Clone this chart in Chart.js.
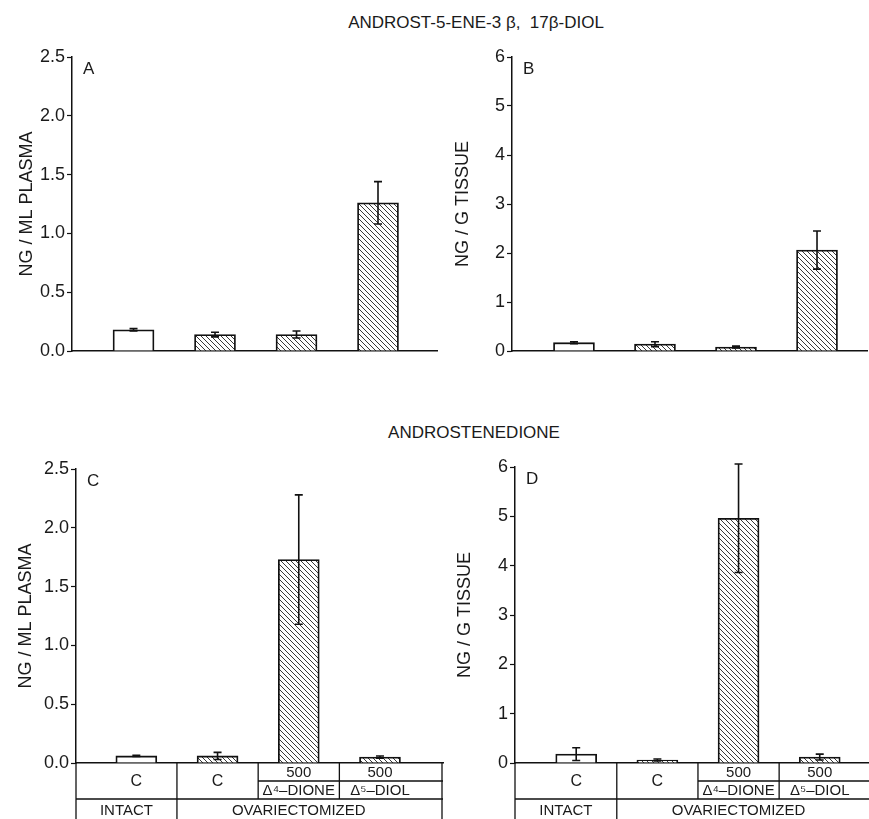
<!DOCTYPE html>
<html>
<head>
<meta charset="utf-8">
<script src="https://cdn.jsdelivr.net/npm/chart.js@4"></script>
<style>
  body { margin: 0; background: #fff; width: 869px; height: 819px; position: relative; overflow: hidden;
         font-family: "Liberation Sans", Arial, sans-serif; color: #1a1a1a; }
  canvas { position: absolute; }
  .head { position: absolute; font-size: 17px; white-space: pre; transform: translateX(-50%); }
</style>
</head>
<body>
<div class="head" style="left:476px;top:13px">ANDROST-5-ENE-3 β,  17β-DIOL</div>
<div class="head" style="left:474px;top:423px">ANDROSTENEDIONE</div>
<canvas id="chartA" width="446" height="380" style="left:0;top:0"></canvas>
<canvas id="chartB" width="423" height="380" style="left:446px;top:0"></canvas>
<canvas id="chartC" width="446" height="439" style="left:0;top:380px"></canvas>
<canvas id="chartD" width="423" height="439" style="left:446px;top:380px"></canvas>
<script>
// groups under the bottom panels
const groups = ["INTACT", "OVARIECTOMIZED"];
const doseRow = ["C", "C", "500", "500"];
const steroidRow = ["", "", "Δ⁴–DIONE", "Δ⁵–DIOL"];
const positions = [1, 2, 3, 4];

// androst-5-ene-3β,17β-diol
const diolPlasma = [0.18, 0.14, 0.14, 1.26];
const diolPlasmaErr = [0.01, 0.02, 0.03, 0.18];
const diolTissue = [0.17, 0.14, 0.08, 2.06];
const diolTissueErr = [0.02, 0.05, 0.02, 0.39];

// androstenedione
const dionePlasma = [0.06, 0.06, 1.73, 0.05];
const dionePlasmaErr = [0.005, 0.03, 0.55, 0.01];
const dioneTissue = [0.18, 0.06, 4.96, 0.12];
const dioneTissueErr = [0.13, 0.02, 1.1, 0.06];

const plasmaTicks = [0, 0.5, 1.0, 1.5, 2.0, 2.5];
const tissueTicks = [0, 1, 2, 3, 4, 5, 6];

const family = '"Liberation Sans", Arial, sans-serif';
const ink = "#1a1a1a";

function hatch() {
  const c = document.createElement("canvas");
  c.width = 5;
  c.height = 5;
  const g = c.getContext("2d");
  g.fillStyle = "#fff";
  g.fillRect(0, 0, 5, 5);
  g.strokeStyle = "#222";
  g.lineWidth = 0.9;
  g.beginPath();
  g.moveTo(-1, -1); g.lineTo(6, 6);
  g.moveTo(-1, 4); g.lineTo(1, 6);
  g.moveTo(4, -1); g.lineTo(6, 1);
  g.stroke();
  return g.createPattern(c, "repeat");
}
const stripes = hatch();

const errorBars = {
  id: "errorBars",
  afterDatasetsDraw(chart) {
    const ds = chart.data.datasets[0];
    const meta = chart.getDatasetMeta(0);
    const ys = chart.scales.y;
    const g = chart.ctx;
    g.save();
    g.strokeStyle = "#111";
    g.lineWidth = 1.6;
    meta.data.forEach((bar, i) => {
      const v = ds.data[i].y, e = ds.errors[i];
      const top = ys.getPixelForValue(v + e), bot = ys.getPixelForValue(v - e);
      g.beginPath();
      g.moveTo(bar.x, top); g.lineTo(bar.x, bot);
      g.moveTo(bar.x - 4, top); g.lineTo(bar.x + 4, top);
      g.moveTo(bar.x - 4, bot); g.lineTo(bar.x + 4, bot);
      g.stroke();
    });
    g.restore();
  }
};

const panelTag = {
  id: "panelTag",
  afterDraw(chart, args, opts) {
    const a = chart.chartArea, g = chart.ctx;
    g.save();
    g.font = "17px " + family;
    g.fillStyle = ink;
    g.textBaseline = "top";
    g.fillText(opts.text, a.left + 11, a.top + 4);
    g.restore();
  }
};

// treatment table drawn under the x axis
const table = {
  id: "table",
  afterDraw(chart, args, opts) {
    if (!opts.show) return;
    const a = chart.chartArea, xs = chart.scales.x, g = chart.ctx;
    const y0 = a.bottom, y1 = y0 + 18, y2 = y0 + 36, y3 = chart.height;
    const b1 = xs.getPixelForValue(1.5), b2 = xs.getPixelForValue(2.5), b3 = xs.getPixelForValue(3.5);
    g.save();
    g.strokeStyle = "#111";
    g.lineWidth = 1.3;
    g.beginPath();
    g.moveTo(a.left, y0); g.lineTo(a.left, y3);
    g.moveTo(b2, y1); g.lineTo(a.right, y1);
    g.moveTo(a.left, y2); g.lineTo(a.right, y2);
    g.moveTo(b1, y0); g.lineTo(b1, y3);
    g.moveTo(b2, y0); g.lineTo(b2, y2);
    g.moveTo(b3, y0); g.lineTo(b3, y2);
    if (opts.edge) { g.moveTo(a.right - 1, y0); g.lineTo(a.right - 1, y3); }
    g.stroke();

    g.font = "15px " + family;
    g.fillStyle = ink;
    g.textAlign = "center";
    g.textBaseline = "middle";
    positions.forEach((p, i) => {
      const x = xs.getPixelForValue(p);
      if (steroidRow[i]) {
        g.fillText(doseRow[i], x, (y0 + y1) / 2 + 1);
        g.fillText(steroidRow[i], x, (y1 + y2) / 2 + 1);
      } else {
        g.font = "16px " + family;
        g.fillText(doseRow[i], x, (y0 + y2) / 2 + 1);
        g.font = "15px " + family;
      }
    });
    g.fillText(groups[0], (a.left + b1) / 2, y2 + 12);
    g.fillText(groups[1], xs.getPixelForValue(3), y2 + 12);
    g.restore();
  }
};

function makeChart(id, vals, errs, o) {
  return new Chart(document.getElementById(id), {
    type: "bar",
    data: {
      datasets: [{
        data: positions.map((x, i) => ({ x: x, y: vals[i] })),
        errors: errs,
        backgroundColor: positions.map((x, i) => (i === 0 ? "#fff" : stripes)),
        borderColor: "#111",
        borderWidth: 1.8,
        barThickness: 41,
      }],
    },
    options: {
      responsive: false,
      animation: false,
      layout: { padding: { top: o.top, bottom: o.bottom, left: 0, right: o.right } },
      plugins: {
        legend: { display: false },
        tooltip: { enabled: false },
        panelTag: { text: o.tag },
        table: { show: o.table, edge: o.edge },
      },
      scales: {
        x: {
          type: "linear",
          offset: false,
          min: o.xmin,
          max: o.xmax,
          ticks: { display: false },
          grid: { display: false },
          border: { color: "#111", width: 1.5 },
          afterFit: (s) => { s.height = 0; },
        },
        y: {
          min: 0,
          max: o.ticks[o.ticks.length - 1],
          afterBuildTicks: (s) => { s.ticks = o.ticks.map((v) => ({ value: v })); },
          ticks: {
            callback: (v) => (o.dec ? v.toFixed(1) : String(v)),
            font: { size: 18, family: family },
            color: ink,
            padding: 2,
          },
          grid: { drawOnChartArea: false, tickLength: 5, tickColor: "#111", tickWidth: 1.2 },
          border: { color: "#111", width: 1.5 },
          title: {
            display: true,
            text: o.ylabel,
            font: { size: 18, family: family },
            color: ink,
            padding: { top: o.tpad, bottom: 0 },
          },
          afterFit: (s) => { s.width = o.yw; },
        },
      },
    },
    plugins: [errorBars, panelTag, table],
  });
}

makeChart("chartA", diolPlasma, diolPlasmaErr, {
  tag: "A", ylabel: "NG / ML PLASMA", ticks: plasmaTicks, dec: true,
  top: 57, bottom: 29, right: 9, yw: 72, tpad: 16, xmin: 0.245, xmax: 4.724, table: false,
});
makeChart("chartB", diolTissue, diolTissueErr, {
  tag: "B", ylabel: "NG / G TISSUE", ticks: tissueTicks, dec: false,
  top: 57, bottom: 29, right: 2, yw: 66, tpad: 6, xmin: 0.235, xmax: 4.617, table: false,
});
makeChart("chartC", dionePlasma, dionePlasmaErr, {
  tag: "C", ylabel: "NG / ML PLASMA", ticks: plasmaTicks, dec: true,
  top: 89, bottom: 56, right: 3, yw: 76, tpad: 15, xmin: 0.257, xmax: 4.776, table: true, edge: true,
});
makeChart("chartD", dioneTissue, dioneTissueErr, {
  tag: "D", ylabel: "NG / G TISSUE", ticks: tissueTicks, dec: false,
  top: 87, bottom: 56, right: 0, yw: 69, tpad: 8, xmin: 0.246, xmax: 4.607, table: true, edge: false,
});
</script>
</body>
</html>
